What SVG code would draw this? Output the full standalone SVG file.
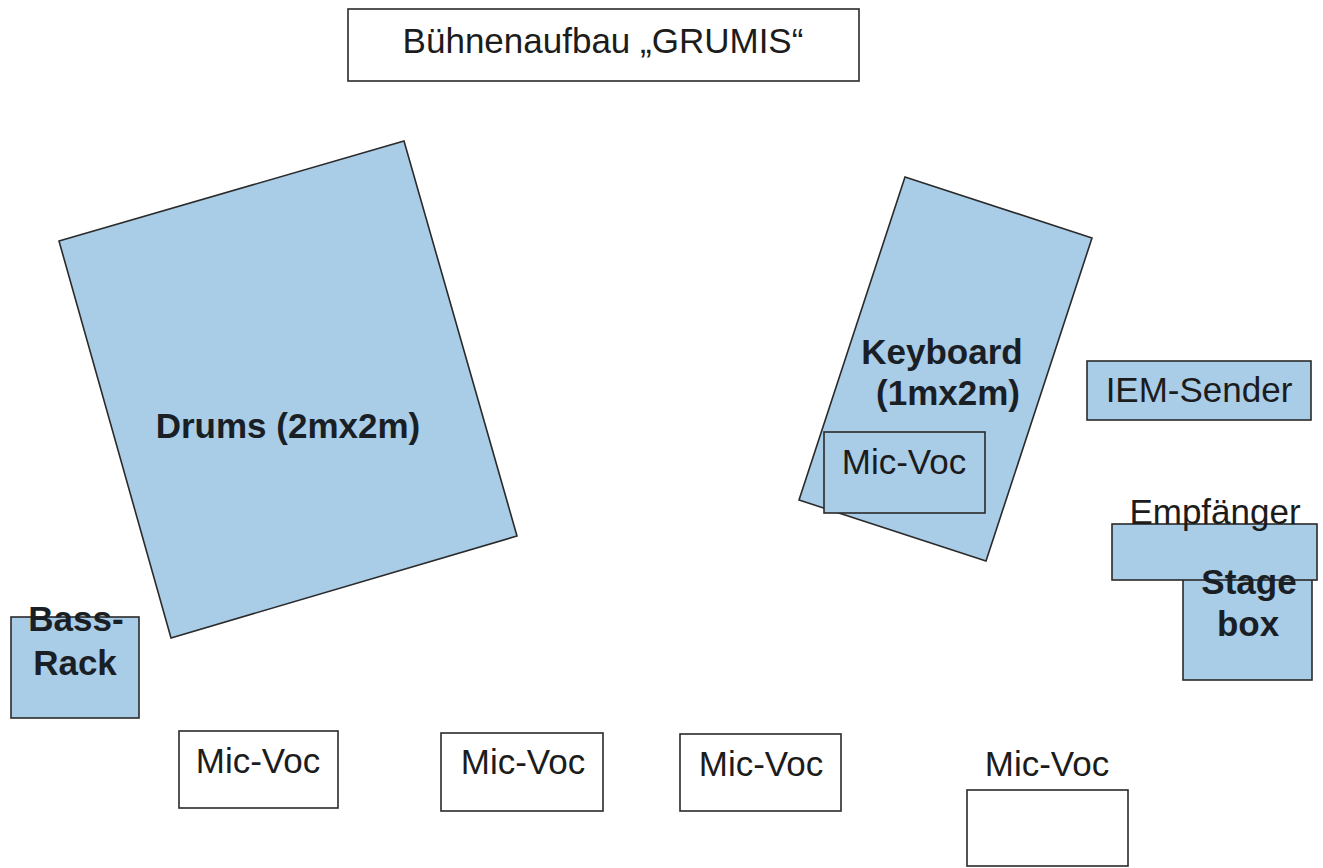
<svg xmlns="http://www.w3.org/2000/svg" width="1323" height="868" viewBox="0 0 1323 868">
<style>
  .box { fill: #ffffff; stroke: #2a2a2a; stroke-width: 1.6; }
  .blue { fill: #a9cce7; stroke: #2a2a2a; stroke-width: 1.6; }
  .t { font-family: "Liberation Sans", Arial, sans-serif; font-size: 35px; fill: #1c1c1c; text-anchor: middle; }
  .b { font-weight: bold; fill: #1a1f26; }
</style>
<rect width="1323" height="868" fill="#ffffff"/>

<g id="title">
  <rect class="box" x="348" y="9" width="511" height="72"/>
  <text class="t" x="603" y="53">Bühnenaufbau „GRUMIS“</text>
</g>

<g id="drums">
  <polygon class="blue" points="59,241 404,141 517,536 171,638"/>
  <text class="t b" x="288" y="438">Drums (2mx2m)</text>
</g>

<g id="bass-rack">
  <rect class="blue" x="11" y="617" width="128" height="101"/>
  <text class="t b" x="76" y="631">Bass-</text>
  <text class="t b" x="75" y="675">Rack</text>
</g>

<g id="keyboard">
  <polygon class="blue" points="905,177 1092,238 986,561 799,500"/>
  <text class="t b" x="942" y="364">Keyboard</text>
  <text class="t b" x="948" y="405">(1mx2m)</text>
</g>

<g id="mic-voc-keyboard">
  <rect class="blue" x="824" y="432" width="161" height="81"/>
  <text class="t" x="904" y="474">Mic-Voc</text>
</g>

<g id="iem-sender">
  <rect class="blue" x="1087" y="361" width="224" height="59"/>
  <text class="t" x="1199" y="402">IEM-Sender</text>
</g>

<g id="stagebox">
  <rect class="blue" x="1183" y="570" width="129" height="110"/>
</g>

<g id="empfaenger">
  <rect class="blue" x="1112" y="524" width="205" height="56"/>
  <text class="t" x="1215" y="524">Empfänger</text>
</g>

<g id="stagebox-label">
  <text class="t b" x="1249" y="594">Stage</text>
  <text class="t b" x="1248" y="636">box</text>
</g>

<g id="mic-voc-1">
  <rect class="box" x="179" y="731" width="159" height="77"/>
  <text class="t" x="258" y="773">Mic-Voc</text>
</g>

<g id="mic-voc-2">
  <rect class="box" x="441" y="733" width="162" height="78"/>
  <text class="t" x="523" y="774">Mic-Voc</text>
</g>

<g id="mic-voc-3">
  <rect class="box" x="680" y="734" width="161" height="77"/>
  <text class="t" x="761" y="776">Mic-Voc</text>
</g>

<g id="mic-voc-4">
  <text class="t" x="1047" y="776">Mic-Voc</text>
  <rect class="box" x="967" y="790" width="161" height="76"/>
</g>

<g id="connectors"></g>
</svg>
